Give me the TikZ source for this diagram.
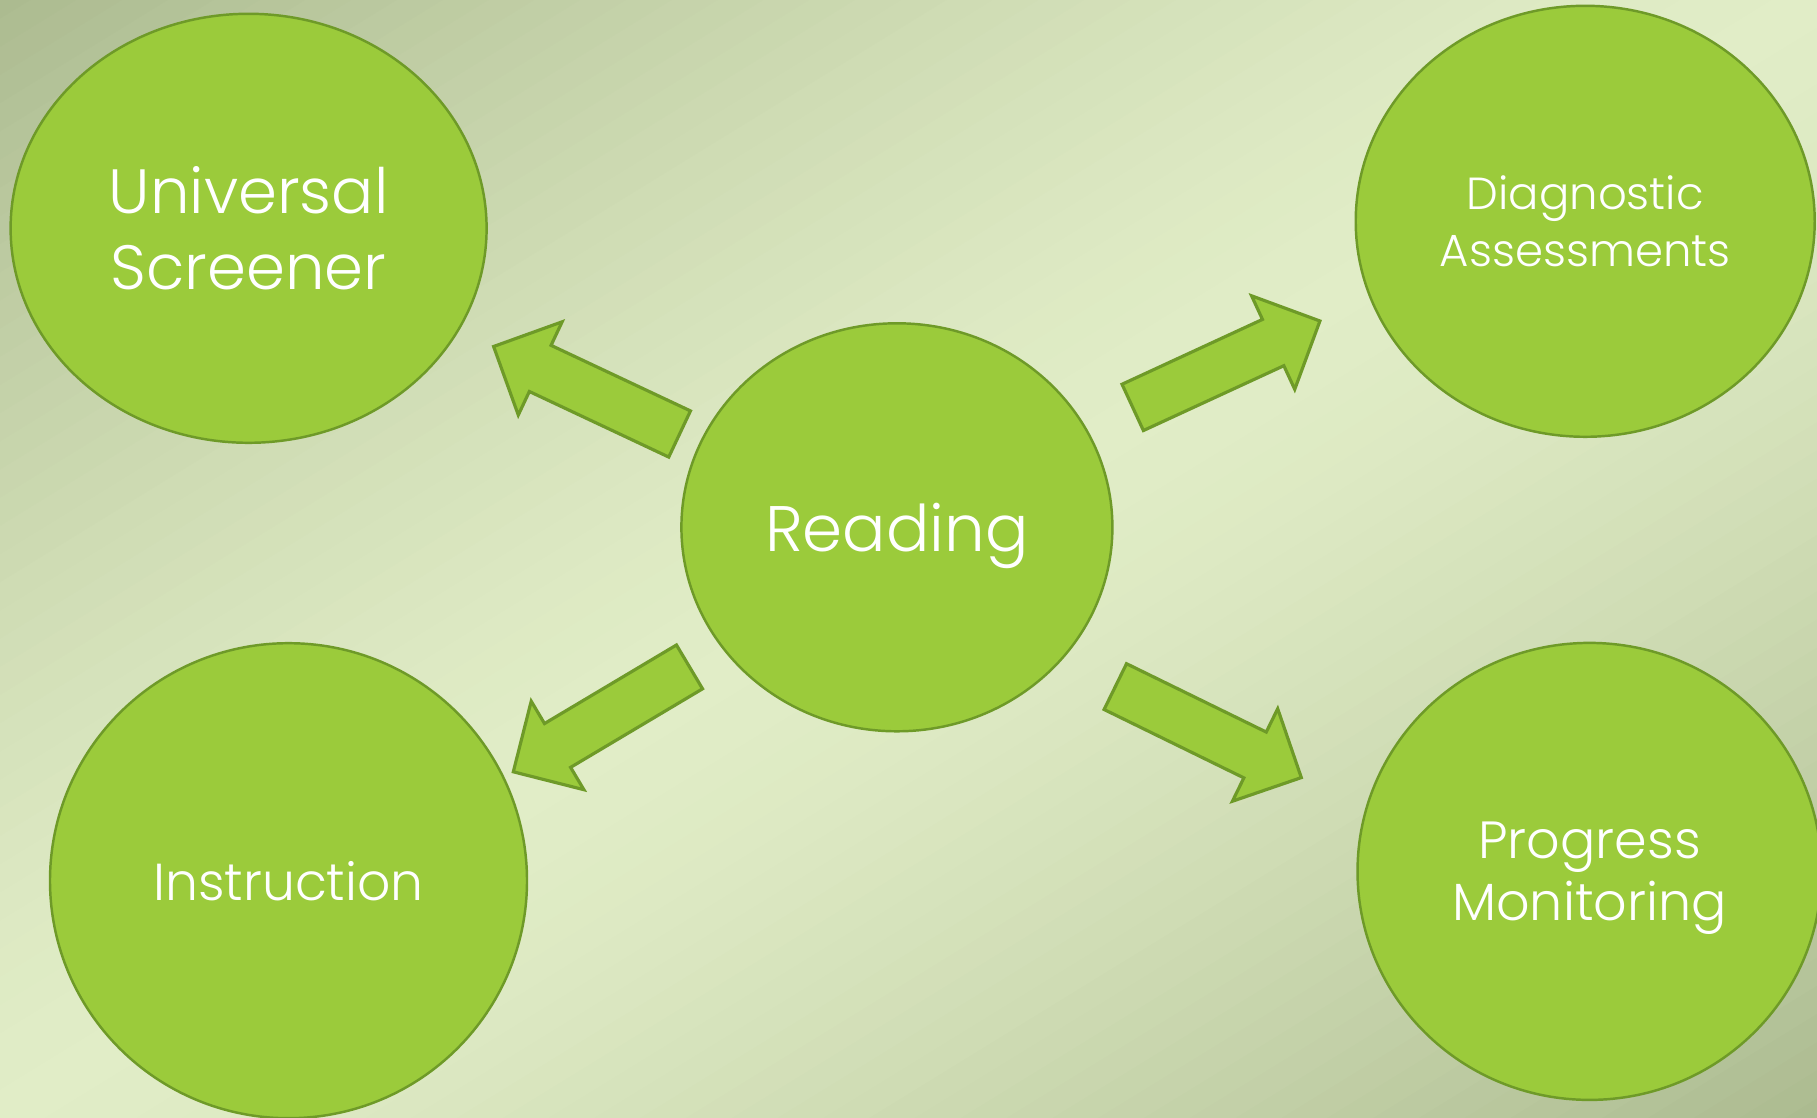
\documentclass[tikz,border=0pt]{standalone}
\usepackage{fontspec}
\setmainfont{Poppins}[UprightFont=* Light]
\usetikzlibrary{shapes.geometric,calc}

\definecolor{leafgreen}{HTML}{9BCB3B}
\definecolor{leafedge}{HTML}{6E9A28}
\definecolor{bgpale}{HTML}{E1EDC7}
\definecolor{bgdusk}{HTML}{ABBA8F}

\tikzset{
    topic/.style={ellipse,draw=leafedge,line width=0.7pt,fill=leafgreen,
        text=white,inner sep=0pt,align=center},
    arrow body/.style={draw=leafedge,line width=0.9pt,fill=leafgreen,line join=miter}
}

% block arrow from tail #1 to tip #2
\newcommand{\blockarrow}[2]{
    \coordinate (#2-base) at ($(#2)!0.515cm!(#1)$);
    \draw[arrow body] ($(#1)!0.255cm!90:(#2)$) --
        ($(#2-base)!0.255cm!90:(#2)$) --
        ($(#2-base)!0.515cm!90:(#2)$) --
        (#2) --
        ($(#2-base)!0.515cm!-90:(#2)$) --
        ($(#2-base)!0.255cm!-90:(#2)$) --
        ($(#1)!0.255cm!-90:(#2)$) -- cycle;
}

\begin{document}
\begin{tikzpicture}

% ========= Background =========
\useasboundingbox (0,0) rectangle (18.17,11.17);
\clip (0,0) rectangle (18.17,11.17);
% diagonal gradient, pale along the anti-diagonal
\begin{scope}[shift={(9.085,5.585)},rotate=31.6]
    \foreach \i in {0,...,79}{
        \pgfmathsetmacro\t{-9.6+\i*0.24}
        \pgfmathsetmacro\p{100*(1-(abs(\t+0.12)/9.6)^1.4)}
        \fill[bgpale!\p!bgdusk] (-11,\t) rectangle (11,\t+0.25);
    }
\end{scope}

% ========= Topics =========
\node[topic,minimum width=4.31cm,minimum height=4.08cm,text depth=0pt,
    font=\fontsize{18.3}{22}\selectfont] (reading) at (8.969,5.897) {Reading};
\node[topic,minimum width=4.76cm,minimum height=4.29cm,
    font=\fontsize{17.8}{21.8}\selectfont] (screener) at (2.486,8.887) {Universal\\Screener};
\node[topic,minimum width=4.59cm,minimum height=4.31cm,
    font=\fontsize{12.8}{16.4}\selectfont] (diagnostic) at (15.852,8.957) {Diagnostic\\Assessments};
\node[topic,minimum width=4.77cm,minimum height=4.75cm,
    font=\fontsize{14.8}{19}\selectfont] (instruction) at (2.885,2.363) {Instruction};
\node[topic,minimum width=4.64cm,minimum height=4.57cm,text depth=0pt,
    font=\fontsize{14.9}{17.6}\selectfont] (progress) at (15.895,2.456) {Progress\\Monitoring};

% ========= Arrows =========
\coordinate (ul-tail) at (6.796,6.830);
\coordinate (ul-tip) at (4.936,7.705);
\coordinate (ur-tail) at (11.327,7.096);
\coordinate (ur-tip) at (13.199,7.960);
\coordinate (ll-tail) at (6.895,4.501);
\coordinate (ll-tip) at (5.133,3.452);
\coordinate (lr-tail) at (11.153,4.304);
\coordinate (lr-tip) at (13.013,3.394);

\blockarrow{ul-tail}{ul-tip}
\blockarrow{ur-tail}{ur-tip}
\blockarrow{ll-tail}{ll-tip}
\blockarrow{lr-tail}{lr-tip}

\end{tikzpicture}
\end{document}
